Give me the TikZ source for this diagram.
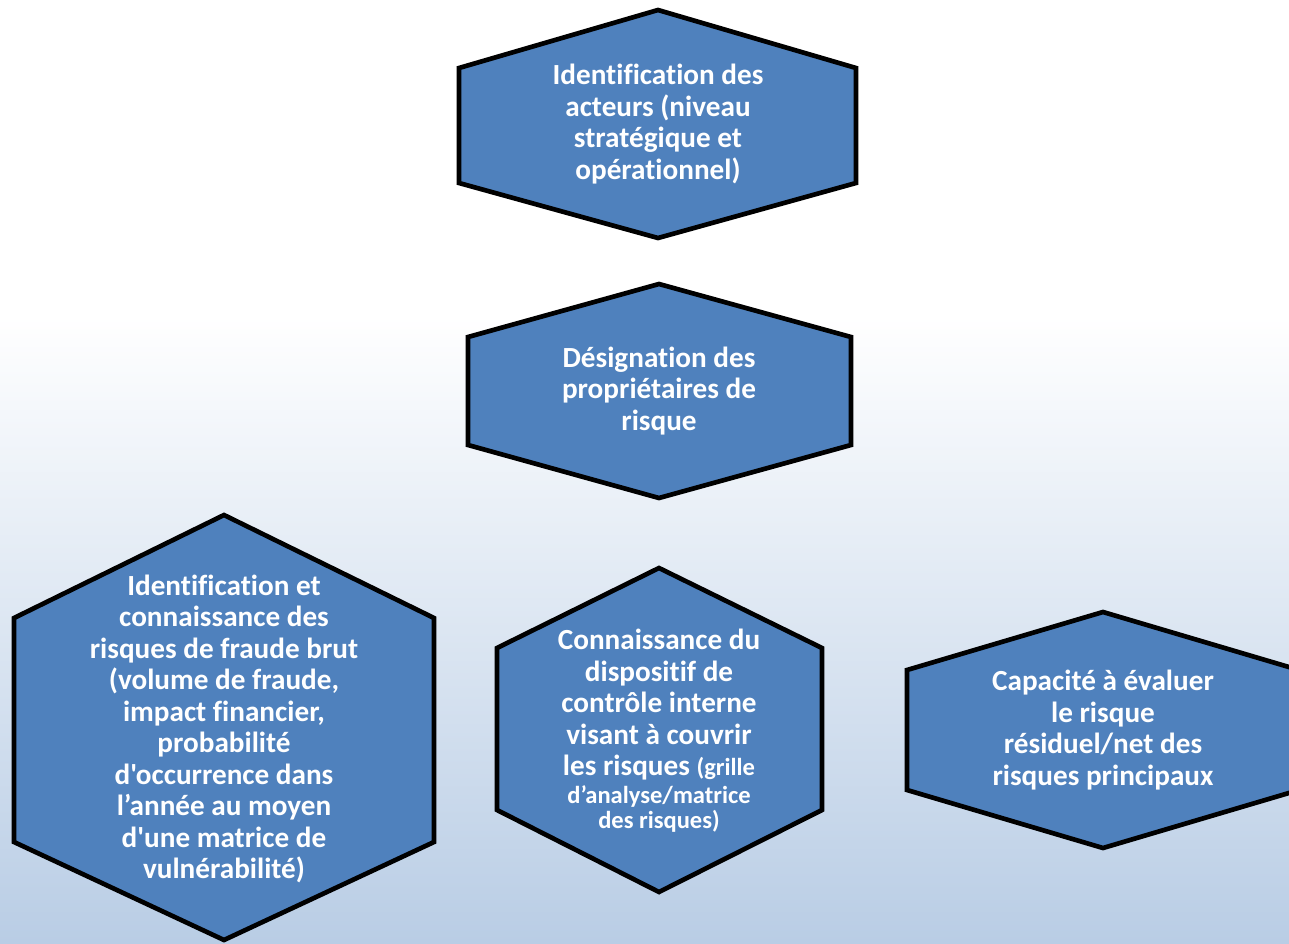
\documentclass[tikz,border=0pt]{standalone}
\usepackage{fontspec}
\newfontfamily\hexfont{Carlito}[Ligatures=NoCommon]
\usepackage{xcolor}
\usepackage{tikz}
\usetikzlibrary{shapes, arrows}

\definecolor{hexblue}{RGB}{79,129,189}
\definecolor{bgblue}{RGB}{185,205,229}

\tikzset{
  hexa/.style={draw=black, fill=hexblue, line width=3.5pt, line join=miter},
  hextext/.style={align=center, text=white, inner sep=0.75pt,
    font=\hexfont\bfseries\fontsize{21.9}{23.6}\selectfont},
}
\newcommand{\petit}{\fontsize{18.4}{19.5}\selectfont}

\begin{document}
\begin{tikzpicture}[x=0.75pt,y=0.75pt,yscale=-1,xscale=1]

        % fond
        \useasboundingbox (0,0) rectangle (1289,943);
        \clip (0,0) rectangle (1289,943);
        \fill [white] (0,0) rectangle (1289,315);
        \shade [top color=white, bottom color=bgblue] (0,315) rectangle (1289,943);

        % hexagones
        \draw [hexa] (658,10) -- (856,68) -- (856,183) -- (658,238) -- (459,183) -- (459,68) -- cycle ;
        \draw [hexa] (659,284) -- (851,337) -- (851,445) -- (659,498) -- (468,445) -- (468,337) -- cycle ;
        \draw [hexa] (224,515) -- (434,618) -- (434,842) -- (224,940) -- (14,842) -- (14,618) -- cycle ;
        \draw [hexa] (659,568) -- (822,648) -- (822,810) -- (659,892) -- (497,810) -- (497,648) -- cycle ;
        \draw [hexa] (1103,612) -- (1299,670) -- (1299,790) -- (1103,848) -- (907,790) -- (907,670) -- cycle ;

        % textes
        \node (acteurs) [hextext] at (658,124) {Identification des\\acteurs (niveau\\stratégique et\\opérationnel)};
        \node (proprietaires) [hextext] at (659,391) {Désignation des\\propriétaires de\\risque};
        \node (fraude) [hextext] at (224,729) {Identification et\\connaissance des\\risques de fraude brut\\(volume de fraude,\\impact financier,\\probabilité\\d'occurrence dans\\l’année au moyen\\d'une matrice de\\vulnérabilité)};
        \node (controle) [hextext] at (659,731) {Connaissance du\\dispositif de\\contrôle interne\\visant à couvrir\\les risques {\petit(grille}\\[-3pt]{\petit d’analyse/matrice}\\[-4.5pt]{\petit des risques)}};
        \node (residuel) [hextext] at (1103,730) {Capacité à évaluer\\le risque\\résiduel/net des\\risques principaux};

    \end{tikzpicture}
\end{document}
